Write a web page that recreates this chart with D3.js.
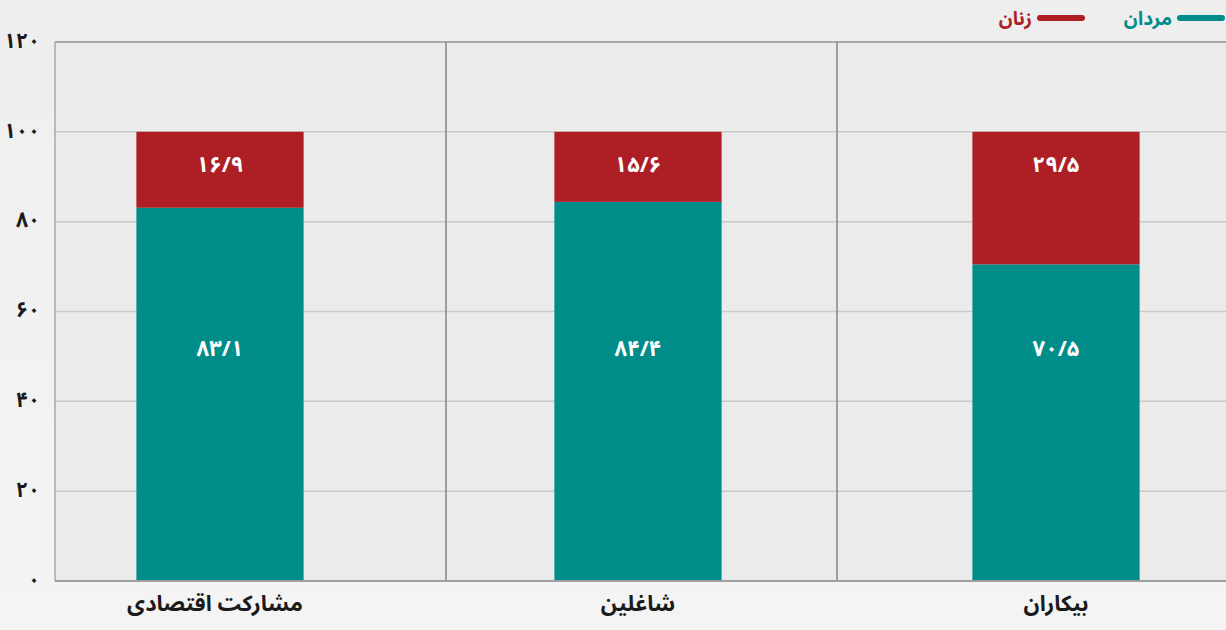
<!DOCTYPE html>
<html><head><meta charset="utf-8">
<script src="https://cdn.jsdelivr.net/npm/d3@7"></script>
<style>
html,body{margin:0;padding:0;background:#f0f0f0;}
svg{display:block;font-family:"Noto Sans Arabic","Vazirmatn","DejaVu Sans",sans-serif;}
</style></head><body>
<svg id="c" width="1226" height="630"></svg>
<script>
const categories = ["مشارکت اقتصادی", "شاغلین", "بیکاران"];
const menValues = [83.1, 84.4, 70.5];
const womenValues = [16.9, 15.6, 29.5];
const yTicks = [0, 20, 40, 60, 80, 100, 120];
const seriesNames = ["مردان", "زنان"];
const colors = ["#008c89", "#ae1f25"];

(function(){
const fa = s => String(s).replace(/\d/g, d => "۰۱۲۳۴۵۶۷۸۹"[d]).replace(".", "/");

const svg = d3.select("#c");
const W = 1226, H = 630;
const defs = svg.append("defs");
const g0 = defs.append("linearGradient").attr("id","bg").attr("x1",0).attr("y1",0).attr("x2",0).attr("y2",1);
g0.append("stop").attr("offset","0%").attr("stop-color","#eeeeee");
g0.append("stop").attr("offset","100%").attr("stop-color","#f4f4f4");
svg.append("rect").attr("width",W).attr("height",H).attr("fill","url(#bg)");

const mLeft = 55, mRight = 1228, mTop = 42, mBottom = 581;
const y = d3.scaleLinear().domain([0,120]).range([mBottom, mTop]);
const xSep = d3.scaleBand().domain(categories).range([mLeft, mRight]).padding(0);
const x = d3.scaleBand().domain(categories).range([11, 1265]).paddingInner(0.6).paddingOuter(0.3);

svg.append("rect").attr("x",mLeft).attr("y",mTop).attr("width",mRight-mLeft).attr("height",mBottom-mTop).attr("fill","#ebebeb");

svg.append("g").selectAll("line").data(yTicks).join("line")
  .attr("x1",mLeft).attr("x2",mRight)
  .attr("y1",d=>y(d)).attr("y2",d=>y(d))
  .attr("stroke",d=>d===120?"#a9a9a9":"#c9c9c9").attr("stroke-width",d=>d===120?2:1.5);

svg.append("g").selectAll("line").data(categories).join("line")
  .attr("x1",d=>xSep(d)).attr("x2",d=>xSep(d))
  .attr("y1",mTop).attr("y2",mBottom)
  .attr("stroke",(d,i)=>i===0?"#a9a9a9":"#858585").attr("stroke-width",1.5);

const bw = x.bandwidth();
const gb = svg.append("g");
categories.forEach((c,i)=>{
  gb.append("rect").attr("x",x(c)).attr("width",bw)
    .attr("y",y(menValues[i])).attr("height",y(0)-y(menValues[i])).attr("fill",colors[0]);
  gb.append("rect").attr("x",x(c)).attr("width",bw)
    .attr("y",y(menValues[i]+womenValues[i])).attr("height",y(menValues[i])-y(menValues[i]+womenValues[i])).attr("fill",colors[1]);
  gb.append("text").attr("x",x(c)+bw/2).attr("y",y(menValues[i]+womenValues[i])+34)
    .attr("text-anchor","middle").attr("dominant-baseline","middle")
    .attr("fill","#fff").attr("font-size",22).attr("font-weight","bold").text(fa(womenValues[i]));
  gb.append("text").attr("x",x(c)+bw/2).attr("y",y(51.5))
    .attr("text-anchor","middle").attr("dominant-baseline","middle")
    .attr("fill","#fff").attr("font-size",22).attr("font-weight","bold").text(fa(menValues[i]));
});

svg.append("line").attr("x1",mLeft).attr("x2",mRight).attr("y1",mBottom).attr("y2",mBottom)
  .attr("stroke","#a0a0a0").attr("stroke-width",2);

svg.append("g").selectAll("text").data(yTicks).join("text")
  .attr("x",40).attr("y",d=>y(d)).attr("text-anchor","end").attr("dominant-baseline","middle")
  .attr("font-size",21).attr("font-weight","bold").attr("fill","#1a1a1a").text(d=>fa(d));

svg.append("g").selectAll("text").data(categories).join("text")
  .attr("x",d=>x(d)+bw/2 - (d===categories[0]?5:0)).attr("y",605).attr("text-anchor","middle").attr("dominant-baseline","middle")
  .attr("font-size",22).attr("font-weight","bold").attr("fill","#1a1a1a").attr("direction","rtl").text(d=>d);

const lg = svg.append("g");
const legendRight = [1222, 1082];
seriesNames.forEach((s,i)=>{
  const xr = legendRight[i];
  lg.append("line").attr("x1",xr-42).attr("x2",xr).attr("y1",18).attr("y2",18)
    .attr("stroke",colors[i]).attr("stroke-width",6).attr("stroke-linecap","round");
  lg.append("text").attr("x",xr-50).attr("y",25).attr("text-anchor","end")
    .attr("font-size",19).attr("font-weight","bold").attr("fill",colors[i]).text(s);
});
})();
</script>
</body></html>
